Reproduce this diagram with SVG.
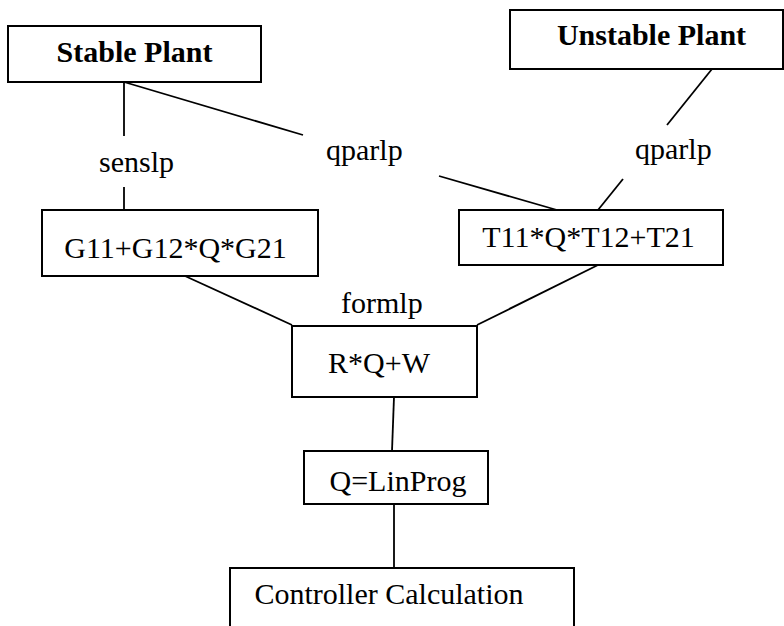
<svg xmlns="http://www.w3.org/2000/svg" width="784" height="626" viewBox="0 0 784 626">
<style>
.box{fill:#fff;stroke:#000;stroke-width:2}
.ln{stroke:#000;stroke-width:1.8;fill:none}
.t{font-family:'Liberation Serif','Times New Roman',serif;font-size:30px;fill:#000}
.c{text-anchor:middle}
.b{font-weight:bold}
</style>
<rect width="784" height="626" fill="#fff"/>
<g id="connectors">
<line class="ln" x1="124" y1="82" x2="124" y2="136"/>
<line class="ln" x1="124" y1="187" x2="124" y2="210"/>
<line class="ln" x1="124" y1="82" x2="303" y2="135"/>
<line class="ln" x1="439" y1="176" x2="557" y2="210"/>
<line class="ln" x1="712" y1="69" x2="667" y2="125"/>
<line class="ln" x1="623" y1="179" x2="598" y2="210"/>
<line class="ln" x1="185" y1="276" x2="292" y2="325"/>
<line class="ln" x1="598" y1="265" x2="477" y2="325"/>
<line class="ln" x1="394" y1="397" x2="392" y2="451"/>
<line class="ln" x1="394" y1="504" x2="394" y2="568"/>
<text class="t" x="99" y="172">senslp</text>
<text class="t" x="326" y="160">qparlp</text>
<text class="t" x="635" y="159">qparlp</text>
<text class="t" x="341" y="313">formlp</text>
</g>
<g id="stable">
<rect class="box" x="8" y="26" width="253" height="56"/>
<text class="t c b" x="134.5" y="62">Stable Plant</text>
</g>
<g id="unstable">
<rect class="box" x="510" y="10" width="273" height="59"/>
<text class="t c b" x="651.5" y="45">Unstable Plant</text>
</g>
<g id="g11">
<rect class="box" x="42" y="210" width="276" height="66"/>
<text class="t c" x="175.5" y="258">G11+G12*Q*G21</text>
</g>
<g id="t11">
<rect class="box" x="459" y="210" width="264" height="55"/>
<text class="t c" x="588.5" y="247">T11*Q*T12+T21</text>
</g>
<g id="rqw">
<rect class="box" x="292" y="326" width="185" height="71"/>
<text class="t c" x="379" y="373">R*Q+W</text>
</g>
<g id="linprog">
<rect class="box" x="304" y="451" width="184" height="53"/>
<text class="t c" x="398" y="491">Q=LinProg</text>
</g>
<g id="controller">
<rect class="box" x="230" y="568" width="344" height="70"/>
<text class="t c" x="389" y="604">Controller Calculation</text>
</g>
</svg>
